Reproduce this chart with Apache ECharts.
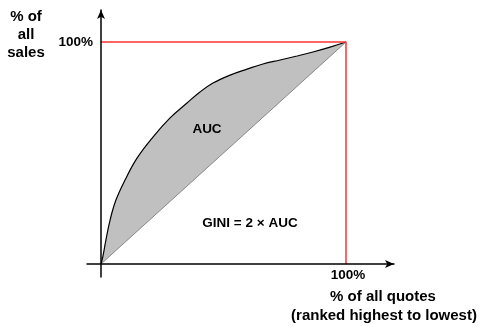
<!DOCTYPE html>
<html><head><meta charset="utf-8">
<script src="https://cdn.jsdelivr.net/npm/echarts@6/dist/echarts.min.js"></script>
<style>html,body{margin:0;padding:0;background:#fff}#c{width:479px;height:327px}</style>
</head><body><div id="c"></div>
<script>
// Data (percent units)
const curveX = [0, 0.8, 2.0, 3.7, 6.1, 9.8, 14.7, 21.2, 28.2, 35.1, 40.4, 45.7, 52.7, 59.6, 66.1, 73.1, 80.0, 86.5, 93.5, 100];
const curveY = [0, 3.6, 10.8, 19.8, 28.8, 37.8, 47.7, 57.2, 65.8, 72.5, 77.5, 81.5, 85.1, 87.8, 90.1, 91.9, 93.7, 95.5, 97.7, 100];
const diagX = [0, 100];
const diagY = [0, 100];
const boxX = [0, 100, 100];
const boxY = [100, 100, 0];
const tickValues = [100];
const tickLabels = ['100%'];
const yTitleLines = ['% of', 'all', 'sales'];
const xTitleLines = ['% of all quotes', '(ranked highest to lowest)'];
const aucText = 'AUC';
const giniText = 'GINI = 2 × AUC';

const zip = (a, b) => a.map((v, i) => [v, b[i]]);
const font = 'Liberation Sans, Arial, sans-serif';

const txt = (s, x, y, size, align) => ({type: 'text', x: x, y: y, z: 100,
  style: {text: s, font: 'bold ' + size + 'px ' + font, fill: '#000', align: align || 'center', verticalAlign: 'middle'}});

const chart = echarts.init(document.getElementById('c'), null, {renderer: 'canvas'});
const axisCommon = {
  axisLine: {onZero: true, lineStyle: {color: '#000', width: 1.5}, symbol: ['none', 'arrow'], symbolSize: [6, 9]},
  axisTick: {show: false}, splitLine: {show: false}, axisLabel: {show: false}
};
const graphics = [
  txt(yTitleLines[0], 26, 17, 15),
  txt(yTitleLines[1], 26, 35, 15),
  txt(yTitleLines[2], 26, 53, 15),
  txt(aucText, 207, 129, 13.5),
  txt(giniText, 250, 223, 13.5),
  txt(xTitleLines[0], 383, 297, 15),
  txt(xTitleLines[1], 384, 316, 15)
];
chart.setOption({
  animation: false,
  grid: {left: 87, right: 85, top: 10, bottom: 50},
  xAxis: Object.assign({type: 'value', min: -5.714, max: 119.59, z: 10}, axisCommon),
  yAxis: Object.assign({type: 'value', min: -5.856, max: 114.41, z: 10}, axisCommon),
  series: [
    {type: 'line', data: zip(curveX, curveY), smooth: 0.4, showSymbol: false, z: 2,
     lineStyle: {color: '#000', width: 1.2}, areaStyle: {color: '#c0c0c0', opacity: 1}},
    {type: 'line', data: zip(diagX, diagY), showSymbol: false, z: 3,
     lineStyle: {color: '#888', width: 1}, areaStyle: {color: '#fff', opacity: 1}},
    {type: 'line', data: zip(boxX, boxY), showSymbol: false, z: 4,
     lineStyle: {color: '#ff3333', width: 1.5}}
  ]
});
// tick labels placed through the axis scales
tickValues.forEach((v, i) => {
  const px = chart.convertToPixel({gridIndex: 0}, [v, 0]);
  const py = chart.convertToPixel({gridIndex: 0}, [0, v]);
  graphics.push(txt(tickLabels[i], px[0] + 2, px[1] + 11, 13.5));
  graphics.push(txt(tickLabels[i], py[0] - 8, py[1], 13.5, 'right'));
});
chart.setOption({graphic: graphics});
</script></body></html>
